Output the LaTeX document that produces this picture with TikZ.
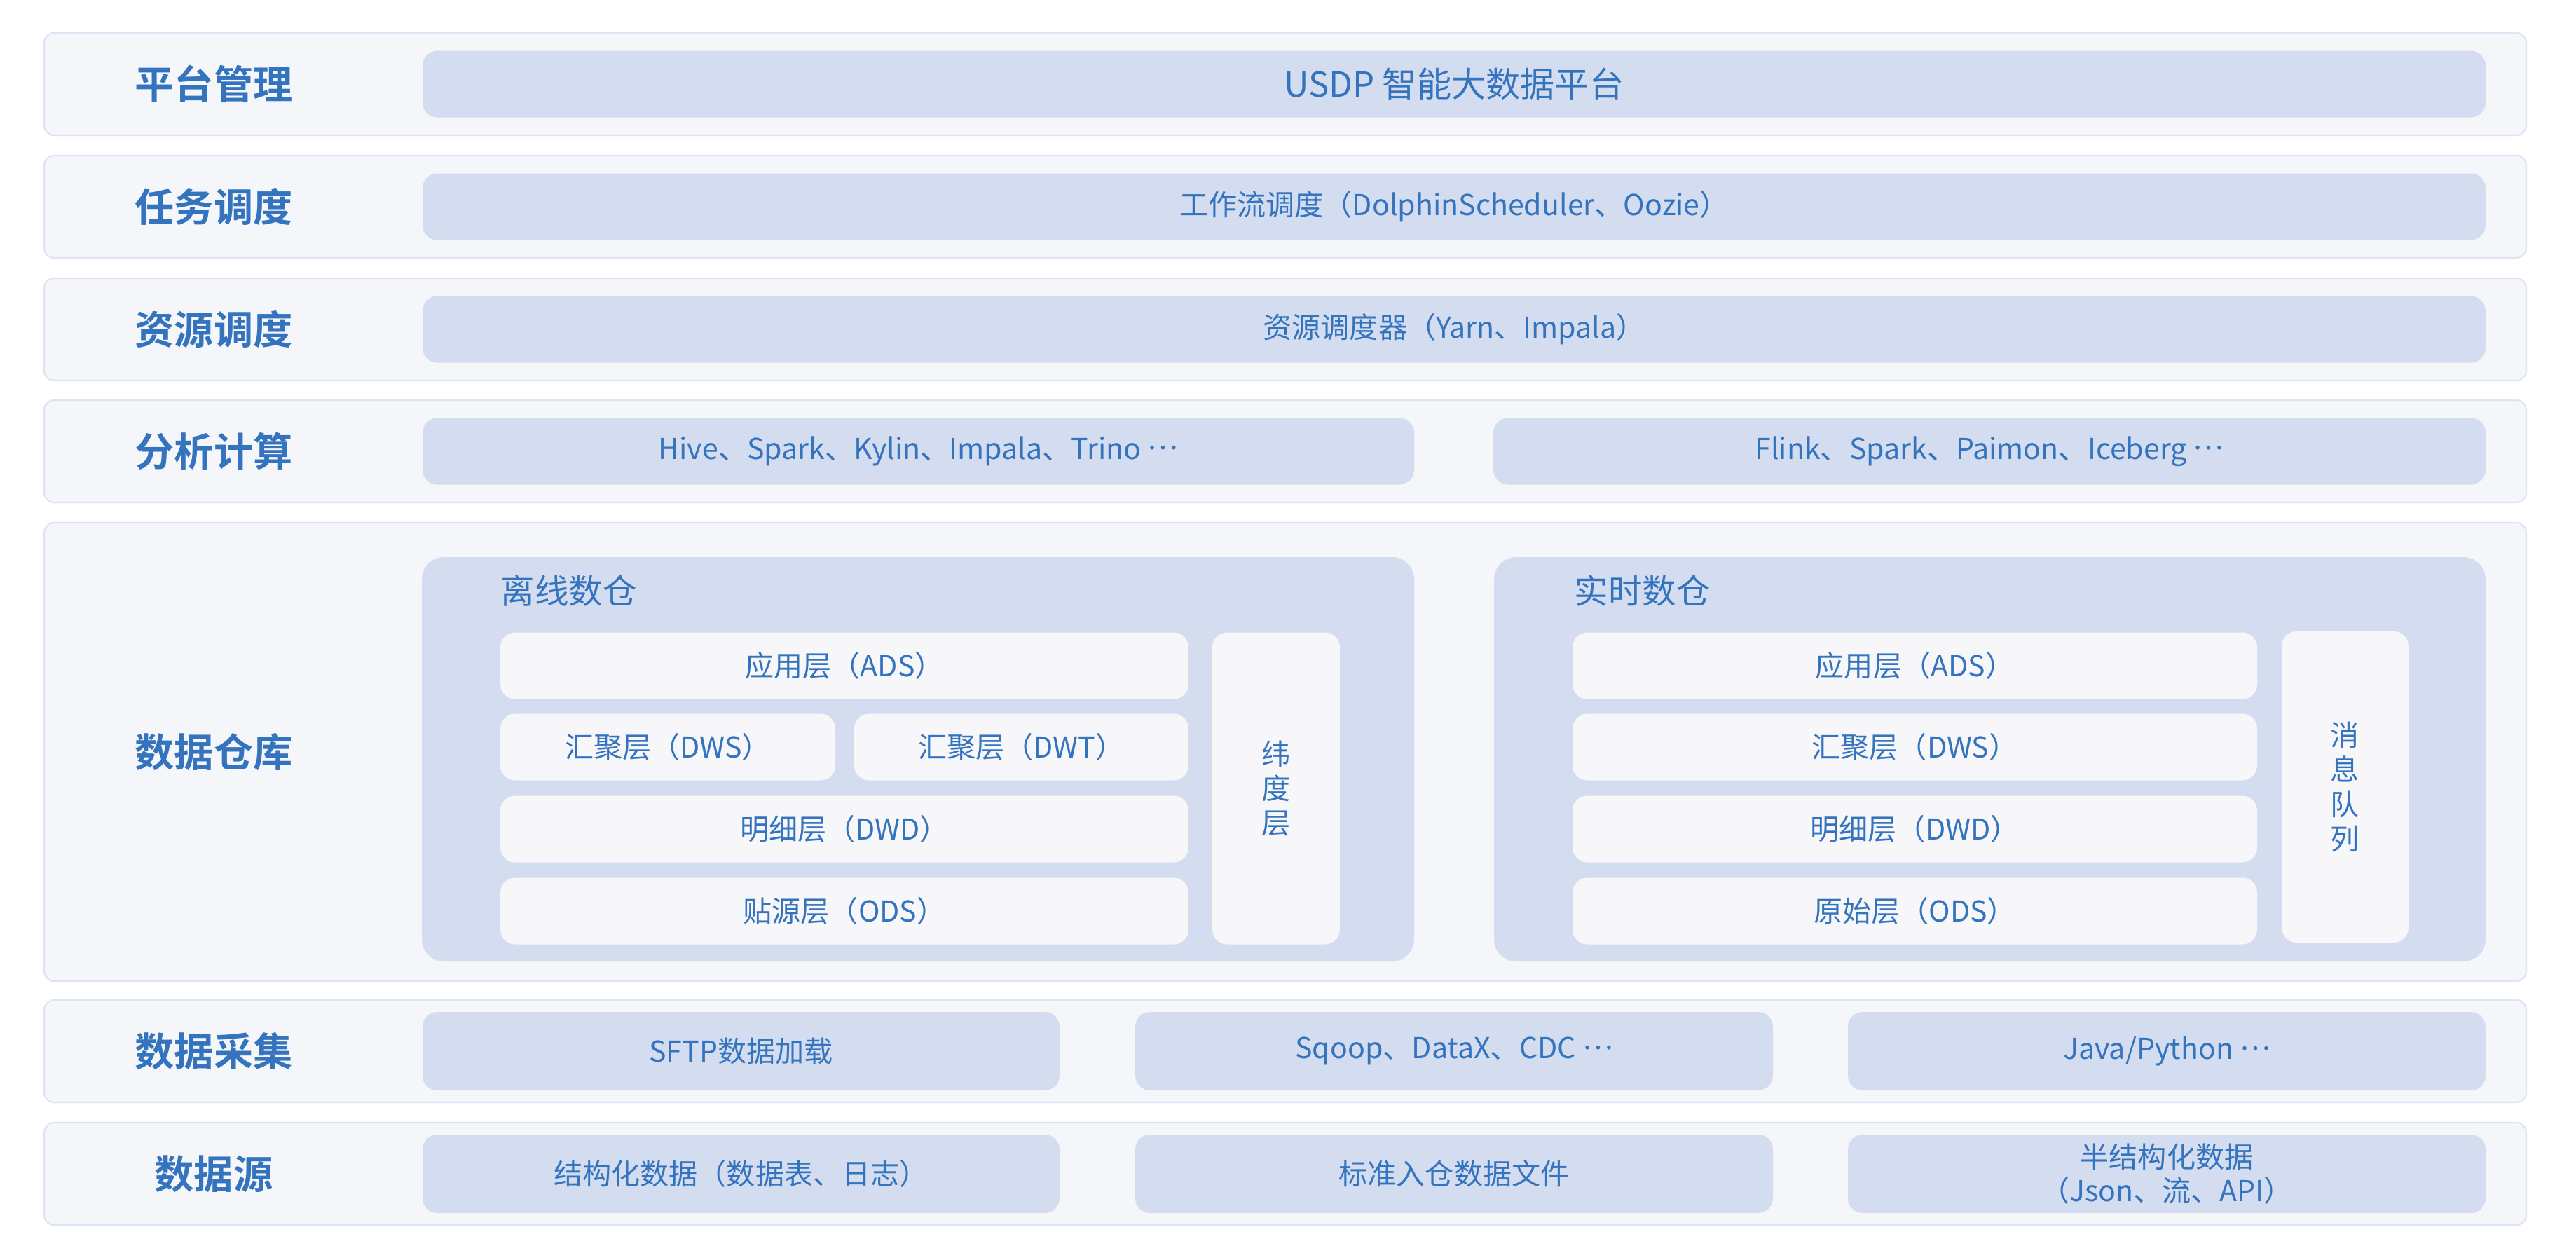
\documentclass[tikz,border=0pt]{standalone}
\usepackage{fontspec}
\setmainfont{Noto Sans CJK SC}[BoldFont={Noto Sans CJK SC Bold}]
\usetikzlibrary{positioning}
\definecolor{ink}{HTML}{3474BF}
\definecolor{lane}{HTML}{F5F6FA}
\definecolor{laneline}{HTML}{DDE4F4}
\definecolor{slab}{HTML}{D4DCF0}
\definecolor{paper}{HTML}{F7F7FA}
\newcommand{\moredots}{\raisebox{0.33em}{…}}

\begin{document}
\begin{tikzpicture}[
  lane/.style={draw=laneline, line width=0.6pt, fill=lane, rounded corners=4pt,
               minimum width=35.42cm, minimum height=1.46cm, inner sep=0pt},
  ttl/.style={text=ink, font=\fontsize{16}{19}\selectfont\bfseries},
  slab/.style={fill=slab, rounded corners=6pt, minimum height=0.95cm,
               inner sep=0pt, text=ink, align=center,
               font=\fontsize{11.7}{13.8}\selectfont},
  cell/.style={fill=paper, rounded corners=6pt, minimum height=0.95cm,
               inner sep=0pt, text=ink, align=center,
               font=\fontsize{11.7}{14}\selectfont},
  head/.style={anchor=west, text=ink, inner sep=0pt,
               font=\fontsize{13.8}{16}\selectfont}]
  \useasboundingbox[fill=white] (0,0) rectangle (36.76,-17.98);

  % layer bands
  \node[lane] (plat) at (18.34,-1.20) {};
  \node[lane] (task) at (18.34,-2.95) {};
  \node[lane] (res)  at (18.34,-4.70) {};
  \node[lane] (calc) at (18.34,-6.44) {};
  \node[lane, minimum height=6.54cm] (dw) at (18.34,-10.73) {};
  \node[lane] (coll) at (18.34,-15.00) {};
  \node[lane] (src)  at (18.34,-16.75) {};

  \node[ttl] (tplat) at (3.05,-1.20) {平台管理};
  \node[ttl] (ttask) at (3.05,-2.95) {任务调度};
  \node[ttl] (tres)  at (3.05,-4.70) {资源调度};
  \node[ttl] (tcalc) at (3.05,-6.44) {分析计算};
  \node[ttl] (tdw)   at (3.05,-10.73) {数据仓库};
  \node[ttl] (tcoll) at (3.05,-15.00) {数据采集};
  \node[ttl] (tsrc)  at (3.05,-16.75) {数据源};

  % single wide blocks
  \node[slab, minimum width=29.44cm, font=\fontsize{14}{17}\selectfont] (usdp)
    at (20.75,-1.20) {USDP 智能大数据平台};
  \node[slab, minimum width=29.44cm] (flow) at (20.75,-2.95)
    {工作流调度（DolphinScheduler、Oozie）};
  \node[slab, minimum width=29.44cm] (yarn) at (20.75,-4.70)
    {资源调度器（Yarn、Impala）};

  % engines
  \node[slab, minimum width=14.15cm] (batch) at (13.105,-6.44)
    {Hive、Spark、Kylin、Impala、Trino \moredots};
  \node[slab, minimum width=14.16cm] (stream) at (28.39,-6.44)
    {Flink、Spark、Paimon、Iceberg \moredots};

  % warehouses
  \node[slab, minimum width=14.16cm, minimum height=5.77cm, rounded corners=9pt]
    (off) at (13.10,-10.835) {};
  \node[slab, minimum width=14.15cm, minimum height=5.77cm, rounded corners=9pt]
    (rt) at (28.395,-10.835) {};
  \node[head] (toff) at (7.14,-8.43) {离线数仓};
  \node[head] (trt)  at (22.46,-8.43) {实时数仓};

  \node[cell, minimum width=9.82cm] (oads) at (12.05,-9.50) {应用层（ADS）};
  \node[cell, minimum width=4.78cm] (odws) at (9.53,-10.66) {汇聚层（DWS）};
  \node[cell, minimum width=4.77cm] (odwt) at (14.575,-10.66) {汇聚层（DWT）};
  \node[cell, minimum width=9.82cm] (odwd) at (12.05,-11.83) {明细层（DWD）};
  \node[cell, minimum width=9.82cm] (oods) at (12.05,-13.00) {贴源层（ODS）};
  \node[cell, minimum width=1.82cm, minimum height=4.45cm] (dim)
    at (18.21,-11.25) {纬\\度\\层};

  \node[cell, minimum width=9.77cm] (rads) at (27.325,-9.50) {应用层（ADS）};
  \node[cell, minimum width=9.77cm] (rdws) at (27.325,-10.66) {汇聚层（DWS）};
  \node[cell, minimum width=9.77cm] (rdwd) at (27.325,-11.83) {明细层（DWD）};
  \node[cell, minimum width=9.77cm] (rods) at (27.325,-13.00) {原始层（ODS）};
  \node[cell, minimum width=1.81cm, minimum height=4.44cm] (mq)
    at (33.465,-11.23) {消\\息\\队\\列};

  % collection and sources
  \node[slab, minimum width=9.09cm, minimum height=1.12cm] (sftp) at (10.575,-15.00) {SFTP数据加载};
  \node[slab, minimum width=9.10cm, minimum height=1.12cm] (sqoop) at (20.75,-15.00) {Sqoop、DataX、CDC \moredots};
  \node[slab, minimum width=9.10cm, minimum height=1.12cm] (java) at (30.92,-15.00) {Java/Python \moredots};

  \node[slab, minimum width=9.09cm, minimum height=1.12cm] (struct) at (10.575,-16.75) {结构化数据（数据表、日志）};
  \node[slab, minimum width=9.10cm, minimum height=1.12cm] (files) at (20.75,-16.75) {标准入仓数据文件};
  \node[slab, minimum width=9.10cm, minimum height=1.12cm] (semi) at (30.92,-16.75) {半结构化数据\\（Json、流、API）};
\end{tikzpicture}
\end{document}
